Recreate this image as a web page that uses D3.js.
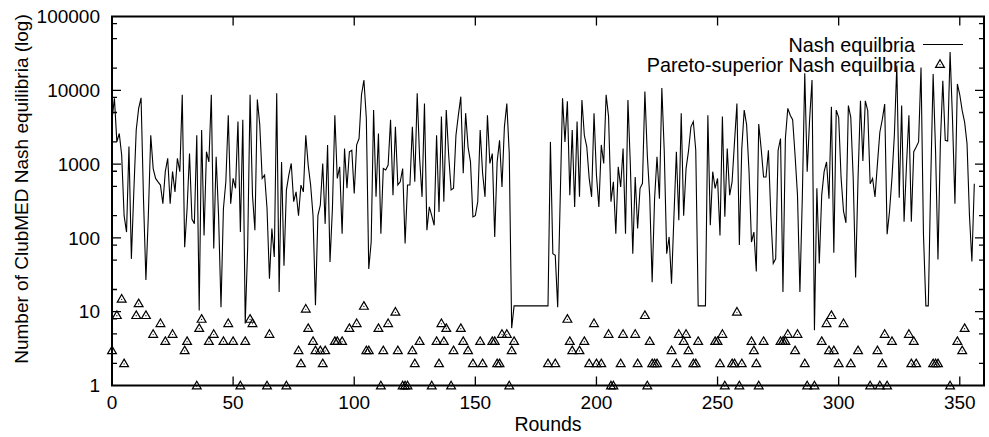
<!DOCTYPE html>
<html>
<head>
<meta charset="utf-8">
<script src="https://cdn.jsdelivr.net/npm/d3@7/dist/d3.min.js"></script>
<style>
  body { margin: 0; background: #fff; }
  svg { display: block; }
  text { font-family: "Liberation Sans", Arial, Helvetica, sans-serif; fill: #000; }
</style>
</head>
<body>
<svg id="chart" width="989" height="437"></svg>
<script>
// 1 - Données (une valeur par round)
const nashCounts = [
  4000, 7800, 2000, 2600, 1320, 200, 120, 1730, 52, 420,
  2900, 5700, 7900, 340, 27, 200, 2460, 870, 640, 575,
  520, 290, 790, 1200, 290, 790, 420, 1200, 790, 8700,
  75, 250, 1390, 180, 155, 2460, 10.4, 2900, 108, 1470,
  1070, 8700, 72, 1260, 200, 11.5, 250, 575, 4600, 290,
  640, 470, 3770, 120, 4000, 6.9, 72, 8700, 380, 127,
  7500, 3400, 640, 710, 250, 28, 134, 55, 9100, 18.5,
  1070, 42, 445, 710, 1020, 310, 420, 200, 520, 420,
  2460, 970, 520, 200, 12.2, 200, 277, 1020, 155, 1820,
  47, 250, 4600, 640, 920, 114, 1620, 470, 1470, 1540,
  400, 1820, 2220, 8700, 13800, 4170, 38, 88, 5400, 360,
  2600, 114, 870, 830, 970, 4000, 380, 3200, 520, 575,
  870, 84, 520, 520, 3200, 575, 9100, 1200, 360, 6600,
  127, 263, 200, 148, 2460, 225, 4400, 310, 5400, 1320,
  445, 470, 2460, 4600, 8200, 750, 4900, 1700, 1070, 193,
  200, 310, 2900, 750, 360, 4600, 1020, 1390, 103, 1070,
  2100, 490, 3200, 6600, 1400, 6, 12, 12, 12, 12,
  12, 12, 12, 12, 12, 12, 12, 12, 12, 12,
  12, 2000, 61, 58, 11.5, 300, 7800, 2000, 7100, 380,
  2900, 263, 3770, 360, 7400, 2460, 1730, 640, 360, 4900,
  710, 263, 1820, 1020, 8700, 4400, 310, 575, 114, 920,
  490, 1620, 114, 7400, 970, 61, 670, 134, 470, 550,
  9600, 1320, 360, 25, 340, 1260, 340, 10700, 1470, 61,
  103, 24, 200, 1470, 173, 4900, 200, 870, 1500, 3200,
  3770, 1540, 12, 12, 12, 12, 4600, 148, 790, 470,
  640, 108, 4400, 193, 1620, 380, 575, 2000, 6600, 80,
  1620, 5400, 3400, 790, 88, 120, 35, 3500, 1620, 670,
  670, 1540, 200, 45, 52, 1540, 2220, 18.5, 2220, 5700,
  4600, 4000, 1320, 380, 18.5, 360, 17000, 790, 4000, 13800,
  5.6, 470, 45, 380, 790, 1070, 340, 6000, 63, 5400,
  4300, 650, 230, 160, 6200, 4300, 650, 29, 650, 7200,
  1100, 7200, 5300, 540, 640, 360, 1000, 2700, 4000, 6500,
  112, 230, 650, 2500, 21700, 350, 6200, 165, 970, 4600,
  165, 1470, 1700, 2000, 20400, 114, 12, 12, 575, 16600,
  1500, 51, 2000, 13500, 2100, 2050, 33000, 4000, 290, 12200,
  8700, 5300, 3700, 1880, 200, 48, 540
];

// Rounds où un équilibre Pareto-supérieur est tracé, et leur nombre
const paretoRounds = [
  0, 2, 4, 5, 10, 11, 14, 17, 20, 22, 25, 30, 31, 35, 36, 37, 40, 42, 46, 48,
  50, 53, 55, 57, 58, 64, 65, 72, 77, 78, 80, 81, 83, 84, 86, 87, 88, 92, 93, 95,
  98, 101, 104, 105, 106, 110, 111, 112, 114, 117, 118, 120, 121, 122, 124, 125, 127, 132, 134, 135,
  136, 137, 138, 140, 141, 144, 145, 147, 149, 152, 153, 157, 158, 159, 160, 161, 163, 164, 165, 166,
  180, 183, 188, 189, 190, 193, 195, 197, 199, 200, 202, 205, 206, 207, 210, 211, 216, 217, 220, 221,
  222, 223, 224, 225, 231, 233, 234, 236, 237, 238, 240, 241, 242, 249, 250, 251, 252, 253, 256, 257,
  258, 259, 260, 264, 265, 266, 267, 269, 276, 277, 278, 279, 282, 283, 286, 287, 290, 293, 295, 296,
  297, 298, 300, 302, 305, 308, 313, 316, 317, 318, 319, 320, 322, 329, 330, 331, 332, 339, 340, 341,
  346, 349, 351, 352
];
const paretoCounts = [
  3, 9, 15, 2, 9, 13, 9, 5, 7, 4, 5, 3, 4, 1, 6, 8, 4, 5, 4, 7,
  4, 1, 4, 8, 7, 1, 5, 1, 3, 2, 11, 6, 4, 3, 3, 2, 3, 4, 4, 4,
  6, 7, 12, 3, 3, 6, 1, 3, 7, 10, 3, 1, 1, 1, 3, 2, 4, 1, 4, 2,
  7, 4, 6, 1, 3, 6, 4, 3, 2, 4, 2, 4, 4, 2, 2, 5, 5, 1, 3, 4,
  2, 2, 8, 4, 3, 3, 4, 2, 7, 2, 2, 5, 1, 1, 2, 5, 5, 2, 9, 1,
  4, 2, 2, 2, 3, 2, 5, 4, 5, 3, 2, 2, 4, 4, 4, 2, 5, 1, 2, 2,
  10, 1, 2, 4, 3, 2, 1, 4, 4, 4, 4, 5, 3, 5, 2, 1, 1, 4, 7, 3,
  9, 3, 2, 7, 2, 3, 1, 3, 1, 2, 5, 1, 4, 5, 2, 4, 2, 2, 2, 2,
  1, 4, 3, 6
];

const xTicks = [0, 50, 100, 150, 200, 250, 300, 350];
const yTicks = [1, 10, 100, 1000, 10000, 100000];
const yMinorFactors = [2, 5, 8];
const legendLabels = ["Nash equilbria", "Pareto-superior Nash equilbria"];

// 2 - Échelles
const mLeft = 112, mRight = 984, mTop = 16.5, mBottom = 385.5;

const x = d3.scaleLinear().domain([0, 360]).range([mLeft, mRight]);
const y = d3.scaleLog().domain([1, 100000]).range([mBottom, mTop]);

const svg = d3.select("#chart");

// 3 - Axes (ticks en miroir comme dans gnuplot)
const minorTicks = [];
yTicks.slice(0, -1).forEach(d => yMinorFactors.forEach(f => minorTicks.push(d * f)));

const ticks = svg.append("g").attr("stroke", "#000").attr("stroke-width", 1.3);

ticks.selectAll(".xt")
  .data(xTicks.filter(d => d > 0))
  .enter().append("path")
  .attr("d", d => `M${x(d)},${mBottom}v-9M${x(d)},${mTop}v9`);

ticks.selectAll(".yt")
  .data(yTicks.slice(1, -1))
  .enter().append("path")
  .attr("d", d => `M${mLeft},${y(d)}h9M${mRight},${y(d)}h-9`);

ticks.selectAll(".ym")
  .data(minorTicks)
  .enter().append("path")
  .attr("d", d => `M${mLeft},${y(d)}h5M${mRight},${y(d)}h-5`);

// Étiquettes des axes
svg.append("g")
  .selectAll("text")
  .data(xTicks)
  .enter().append("text")
  .attr("x", d => x(d))
  .attr("y", 409)
  .attr("text-anchor", "middle")
  .attr("font-size", 19)
  .text(d => d);

svg.append("g")
  .selectAll("text")
  .data(yTicks)
  .enter().append("text")
  .attr("x", 100)
  .attr("y", d => y(d))
  .attr("dy", "0.35em")
  .attr("text-anchor", "end")
  .attr("font-size", 19)
  .text(d => d);

svg.append("text")
  .attr("x", (mLeft + mRight) / 2)
  .attr("y", 431)
  .attr("text-anchor", "middle")
  .attr("font-size", 19.5)
  .text("Rounds");

svg.append("text")
  .attr("transform", "translate(21,189) rotate(-90)")
  .attr("dy", "0.35em")
  .attr("text-anchor", "middle")
  .attr("font-size", 19)
  .text("Number of ClubMED Nash equilibria (log)");

// 4 - Courbe des équilibres de Nash
const line = d3.line()
  .x((d, i) => x(i))
  .y(d => y(d));

svg.append("path")
  .datum(nashCounts)
  .attr("d", line)
  .attr("fill", "none")
  .attr("stroke", "#000")
  .attr("stroke-width", 1.1)
  .attr("stroke-linejoin", "miter");

// 5 - Triangles (équilibres Pareto-supérieurs)
const triangle = "M0,-4.2L4.4,3.4L-4.4,3.4Z";

function drawTriangle(g) {
  g.append("path")
    .attr("d", triangle)
    .attr("fill", "none")
    .attr("stroke", "#000")
    .attr("stroke-width", 1.2);
  g.append("circle")
    .attr("r", 0.6)
    .attr("cy", 0.6)
    .attr("fill", "#000");
}

svg.append("g")
  .selectAll("g")
  .data(paretoRounds.map((r, i) => ({ r: r, v: paretoCounts[i] })))
  .enter().append("g")
  .attr("transform", d => `translate(${x(d.r)},${y(d.v)})`)
  .each(function () { drawTriangle(d3.select(this)); });

// 6 - Légende
svg.append("text")
  .attr("x", 915).attr("y", 51.5)
  .attr("text-anchor", "end")
  .attr("font-size", 19.8)
  .text(legendLabels[0]);

svg.append("line")
  .attr("x1", 923).attr("x2", 963)
  .attr("y1", 44.5).attr("y2", 44.5)
  .attr("stroke", "#000")
  .attr("stroke-width", 1.1);

svg.append("text")
  .attr("x", 915).attr("y", 71.5)
  .attr("text-anchor", "end")
  .attr("font-size", 19.8)
  .text(legendLabels[1]);

drawTriangle(svg.append("g").attr("transform", "translate(940,64)"));

// 7 - Cadre
svg.append("rect")
  .attr("x", mLeft).attr("y", mTop)
  .attr("width", mRight - mLeft).attr("height", mBottom - mTop)
  .attr("fill", "none")
  .attr("stroke", "#000")
  .attr("stroke-width", 2);
</script>
</body>
</html>
